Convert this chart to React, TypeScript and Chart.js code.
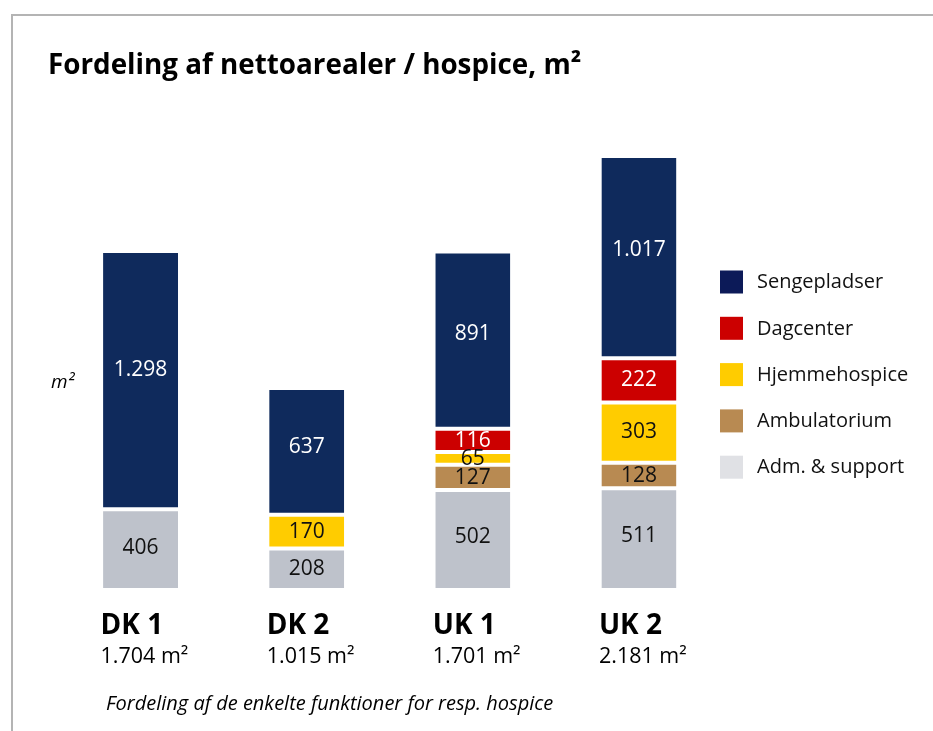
import React, { useEffect, useRef } from "react";
import { Chart, registerables } from "chart.js";

Chart.register(...registerables);

// ---- data ----
const categories = ["DK 1", "DK 2", "UK 1", "UK 2"];
const admSupport = [406, 208, 502, 511];
const ambulatorium = [null, null, 127, 128];
const hjemmehospice = [null, 170, 65, 303];
const dagcenter = [null, null, 116, 222];
const sengepladser = [1298, 637, 891, 1017];

const seriesNames = ["Adm. & support", "Ambulatorium", "Hjemmehospice", "Dagcenter", "Sengepladser"];
const seriesColors = ["#bec2cb", "#b88a52", "#ffcc00", "#cc0000", "#0f2a5c"];
const legendColors = ["#e0e1e5", "#b88a52", "#ffcc00", "#cc0000", "#0c1a58"];
const labelColors = ["#111111", "#111111", "#111111", "#ffffff", "#ffffff"];

const titleText = "Fordeling af nettoarealer / hospice, m²";
const unitText = "m²";
const captionText = "Fordeling af de enkelte funktioner for resp. hospice";
const yMax = 2400;

const FONT = "'Open Sans', 'Noto Sans', sans-serif";

function formatDa(v: number): string {
  const s = Math.round(v).toString();
  return s.replace(/\B(?=(\d{3})+(?!\d))/g, ".");
}

const overlayPlugin = {
  id: "overlay",
  beforeDraw(chart: any) {
    const ctx = chart.ctx;
    ctx.save();
    ctx.fillStyle = "#ffffff";
    ctx.fillRect(0, 0, chart.width, chart.height);
    // frame
    ctx.strokeStyle = "#b4b4b4";
    ctx.lineWidth = 2;
    ctx.beginPath();
    ctx.moveTo(12, chart.height);
    ctx.lineTo(12, 15);
    ctx.lineTo(chart.width, 15);
    ctx.stroke();
    ctx.restore();
  },
  afterDatasetsDraw(chart: any) {
    const ctx = chart.ctx;
    ctx.save();
    // value labels (placed slightly above segment centre, as in the original)
    const vSize = 21;
    ctx.font = `${vSize}px ${FONT}`;
    ctx.textAlign = "center";
    ctx.textBaseline = "alphabetic";
    chart.data.datasets.forEach((ds: any, di: number) => {
      const meta = chart.getDatasetMeta(di);
      meta.data.forEach((bar: any, i: number) => {
        const v = ds.data[i];
        if (v == null || v === 0) return;
        const p = bar.getProps(["x", "y", "base"], true);
        const top = Math.min(p.y, p.base) + 2;
        const bottom = Math.max(p.y, p.base) - 2;
        const cy = top + 0.455 * (bottom - top);
        ctx.fillStyle = labelColors[di];
        ctx.fillText(formatDa(v), p.x, cy + 0.357 * vSize);
      });
    });

    // category labels with totals
    const meta0 = chart.getDatasetMeta(0);
    categories.forEach((c, i) => {
      const bar: any = meta0.data[i];
      const p = bar.getProps(["x", "width"], true);
      const left = p.x - p.width / 2 - 2.5;
      const total = [admSupport, ambulatorium, hjemmehospice, dagcenter, sengepladser].reduce(
        (s, arr) => s + (arr[i] || 0),
        0
      );
      ctx.textAlign = "left";
      ctx.textBaseline = "alphabetic";
      ctx.fillStyle = "#000000";
      ctx.font = `bold 28px ${FONT}`;
      ctx.fillText(c, left, 633.5);
      ctx.font = `21.5px ${FONT}`;
      ctx.fillText(`${formatDa(total)} m²`, left, 663);
    });

    // title
    ctx.fillStyle = "#000000";
    ctx.font = `bold 27.8px ${FONT}`;
    ctx.textAlign = "left";
    ctx.textBaseline = "alphabetic";
    ctx.fillText(titleText, 48, 74);

    // unit label
    ctx.font = `italic 19px ${FONT}`;
    ctx.fillText(unitText, 51, 388);

    // caption
    ctx.font = `italic 20px ${FONT}`;
    ctx.fillText(captionText, 106, 710);

    // legend
    const order = [4, 3, 2, 1, 0];
    ctx.font = `20px ${FONT}`;
    ctx.textBaseline = "middle";
    order.forEach((di, k) => {
      const cy = 281.5 + k * 46.3;
      ctx.fillStyle = legendColors[di];
      ctx.fillRect(720, cy - 11, 23, 23);
      ctx.fillStyle = "#111111";
      ctx.fillText(seriesNames[di], 757, cy + 1);
    });
    ctx.restore();
  },
};

export default function App() {
  const canvasRef = useRef<HTMLCanvasElement | null>(null);

  useEffect(() => {
    if (!canvasRef.current) return;
    const seriesData = [admSupport, ambulatorium, hjemmehospice, dagcenter, sengepladser];
    const chart = new Chart(canvasRef.current, {
      type: "bar",
      data: {
        labels: categories,
        datasets: seriesData.map((d, i) => ({
          label: seriesNames[i],
          data: d as any,
          backgroundColor: seriesColors[i],
          borderColor: "#ffffff",
          borderWidth: { top: 2, bottom: 2, left: 0, right: 0 },
          borderSkipped: false,
          barPercentage: 0.4515,
          categoryPercentage: 1,
        })),
      },
      options: {
        responsive: false,
        animation: false,
        devicePixelRatio: 1,
        layout: { padding: { left: 57.5, right: 211, top: 112.4, bottom: 141 } },
        plugins: {
          legend: { display: false },
          tooltip: { enabled: false },
          title: { display: false },
        },
        scales: {
          x: { stacked: true, display: false },
          y: { stacked: true, display: false, min: 0, max: yMax },
        },
      },
      plugins: [overlayPlugin],
    });
    return () => chart.destroy();
  }, []);

  return (
    <div style={{ position: "absolute", left: 0, top: 0, width: 933, height: 731, background: "#fff" }}>
      <canvas ref={canvasRef} width={933} height={731} style={{ display: "block" }} />
    </div>
  );
}
